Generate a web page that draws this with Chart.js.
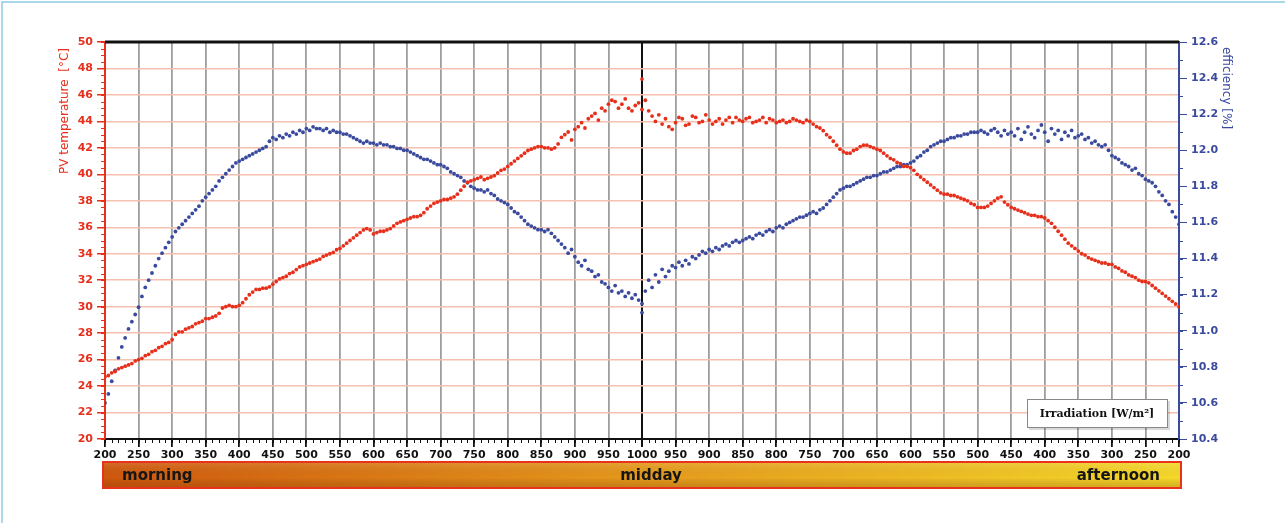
<!DOCTYPE html>
<html>
<head>
<meta charset="utf-8">
<script src="https://cdn.jsdelivr.net/npm/chart.js@4.4.0/dist/chart.umd.min.js"></script>
<style>
html, body { margin: 0; padding: 0; background: #fff; overflow: hidden; }
#wrap { width: 1285px; height: 523px; position: relative; }
</style>
</head>
<body>
<div id="wrap"><canvas id="mycanvas" width="1285" height="523"></canvas></div>
<script>
// x axis: 200 -> 1000 (morning) then 1000 -> 200 (afternoon), step 50
var tickLabels = ['200','250','300','350','400','450','500','550','600','650','700','750','800','850','900','950',
                  '1000','950','900','850','800','750','700','650','600','550','500','450','400','350','300','250','200'];
var periodLabels = ['morning', 'midday', 'afternoon'];

// readings every 5 W/m2; morning runs 200 -> 1000, afternoon 1000 -> 200
var tempMorning = [
  24.7,24.8,25.0,25.1,25.3,25.4,25.5,25.6,25.7,25.9,
  26.0,26.1,26.3,26.4,26.6,26.7,26.9,27.0,27.2,27.3,
  27.5,27.9,28.1,28.1,28.3,28.4,28.5,28.7,28.8,28.9,
  29.1,29.1,29.2,29.3,29.5,29.9,30.0,30.1,30.0,30.0,
  30.1,30.3,30.6,30.9,31.1,31.3,31.3,31.4,31.4,31.5,
  31.7,31.9,32.1,32.2,32.3,32.5,32.6,32.8,33.0,33.1,
  33.2,33.3,33.4,33.5,33.6,33.8,33.9,34.0,34.1,34.3,
  34.4,34.6,34.8,35.0,35.2,35.4,35.6,35.8,35.9,35.8,
  35.5,35.6,35.7,35.7,35.8,35.9,36.1,36.3,36.4,36.5,
  36.6,36.7,36.8,36.8,36.9,37.1,37.4,37.6,37.8,37.9,
  38.0,38.1,38.1,38.2,38.3,38.5,38.8,39.1,39.4,39.5,
  39.6,39.7,39.8,39.6,39.7,39.8,39.9,40.1,40.3,40.4,
  40.6,40.8,41.0,41.2,41.4,41.6,41.8,41.9,42.0,42.1,
  42.1,42.0,42.0,41.9,42.0,42.3,42.8,43.0,43.2,42.6,
  43.4,43.6,43.9,43.5,44.2,44.4,44.6,44.1,45.0,44.8,
  45.3,45.6,45.5,45.0,45.3,45.7,45.0,44.8,45.2,45.4,
  44.9
];
var tempAfternoon = [
  47.2,45.6,44.8,44.4,44.0,44.5,43.8,44.2,43.6,43.4,
  43.9,44.3,44.2,43.7,43.8,44.4,44.3,43.9,44.0,44.5,
  44.1,43.8,44.0,44.2,43.8,44.1,44.3,43.9,44.3,44.1,
  44.0,44.2,44.3,43.9,44.0,44.1,44.3,43.9,44.2,44.1,
  43.9,44.0,44.1,43.9,44.0,44.2,44.1,44.0,43.9,44.1,
  44.0,43.8,43.6,43.5,43.3,43.0,42.8,42.5,42.2,41.9,
  41.7,41.6,41.6,41.8,41.9,42.1,42.2,42.2,42.1,42.0,
  41.9,41.8,41.6,41.4,41.2,41.1,40.9,40.8,40.6,40.6,
  40.5,40.3,40.0,39.8,39.6,39.4,39.2,39.0,38.8,38.6,
  38.5,38.5,38.4,38.4,38.3,38.2,38.1,38.0,37.8,37.7,
  37.5,37.5,37.5,37.6,37.8,38.0,38.2,38.3,37.9,37.7,
  37.5,37.4,37.3,37.2,37.1,37.0,36.9,36.9,36.8,36.8,
  36.7,36.5,36.3,36.0,35.7,35.4,35.1,34.8,34.6,34.4,
  34.2,34.0,33.9,33.7,33.6,33.5,33.4,33.3,33.3,33.2,
  33.2,33.0,32.9,32.7,32.6,32.4,32.3,32.2,32.0,31.9,
  31.9,31.8,31.6,31.4,31.2,31.0,30.8,30.6,30.4,30.2,
  30.0
];
var effMorning = [
  10.60,10.65,10.72,10.78,10.85,10.91,10.96,11.01,11.05,11.09,
  11.13,11.19,11.24,11.28,11.32,11.36,11.40,11.43,11.46,11.49,
  11.52,11.55,11.57,11.59,11.61,11.63,11.65,11.67,11.69,11.72,
  11.74,11.76,11.78,11.80,11.83,11.85,11.87,11.89,11.91,11.93,
  11.94,11.95,11.96,11.97,11.98,11.99,12.00,12.01,12.02,12.05,
  12.07,12.06,12.08,12.07,12.09,12.08,12.10,12.09,12.11,12.10,
  12.12,12.11,12.13,12.12,12.12,12.11,12.12,12.10,12.11,12.10,
  12.10,12.09,12.09,12.08,12.07,12.06,12.05,12.04,12.05,12.04,
  12.04,12.03,12.04,12.03,12.03,12.02,12.02,12.01,12.01,12.00,
  12.00,11.99,11.98,11.97,11.96,11.95,11.95,11.94,11.93,11.92,
  11.92,11.91,11.90,11.88,11.87,11.86,11.85,11.83,11.82,11.80,
  11.79,11.78,11.78,11.77,11.78,11.76,11.75,11.73,11.72,11.71,
  11.70,11.68,11.66,11.65,11.63,11.61,11.59,11.58,11.57,11.56,
  11.56,11.55,11.56,11.54,11.52,11.50,11.48,11.46,11.43,11.45,
  11.41,11.38,11.36,11.39,11.34,11.33,11.30,11.31,11.27,11.26,
  11.24,11.22,11.25,11.21,11.22,11.19,11.21,11.18,11.20,11.17,
  11.10
];
var effAfternoon = [
  11.15,11.22,11.28,11.24,11.31,11.27,11.34,11.30,11.33,11.36,
  11.35,11.38,11.36,11.39,11.37,11.41,11.40,11.42,11.44,11.43,
  11.45,11.44,11.46,11.45,11.47,11.48,11.47,11.49,11.50,11.49,
  11.50,11.51,11.52,11.51,11.53,11.54,11.53,11.55,11.56,11.55,
  11.57,11.58,11.57,11.59,11.60,11.61,11.62,11.63,11.63,11.64,
  11.65,11.66,11.65,11.67,11.68,11.70,11.72,11.74,11.76,11.78,
  11.79,11.80,11.80,11.81,11.82,11.83,11.84,11.85,11.85,11.86,
  11.86,11.87,11.88,11.88,11.89,11.90,11.91,11.91,11.92,11.92,
  11.93,11.94,11.96,11.97,11.99,12.00,12.02,12.03,12.04,12.05,
  12.05,12.06,12.07,12.07,12.08,12.08,12.09,12.09,12.10,12.10,
  12.10,12.11,12.10,12.09,12.11,12.12,12.10,12.08,12.11,12.09,
  12.10,12.08,12.12,12.06,12.10,12.13,12.09,12.07,12.11,12.14,
  12.10,12.05,12.12,12.09,12.11,12.06,12.10,12.08,12.11,12.07,
  12.08,12.09,12.06,12.07,12.04,12.05,12.03,12.02,12.03,12.00,
  11.97,11.96,11.95,11.93,11.92,11.91,11.89,11.90,11.87,11.86,
  11.84,11.83,11.82,11.80,11.77,11.75,11.72,11.70,11.66,11.63,
  11.59
];

var STEP = 5;          // W/m2 between readings
var HALF = 800;        // x position of midday (1000 W/m2)
var RED = '#e6301c';
var BLUE = '#3a4a9e';

function toPoints(morning, afternoon) {
  var pts = [];
  for (var i = 0; i < morning.length; i++) pts.push({ x: i * STEP, y: morning[i] });
  for (var j = 0; j < afternoon.length; j++) pts.push({ x: HALF + j * STEP, y: afternoon[j] });
  return pts;
}

// minor ticks, top border, axis titles, day-period bar, legend box
var decorations = {
  id: 'decorations',
  afterDraw: function(chart) {
    var c = chart.ctx, a = chart.chartArea;
    var sx = chart.scales.x, sy = chart.scales.y, sy1 = chart.scales.y1;
    c.save();

    // minor ticks
    c.lineWidth = 1;
    c.strokeStyle = RED;
    for (var t = 20; t <= 50; t += 0.5) {
      var py = Math.round(sy.getPixelForValue(t)) + 0.5;
      c.beginPath(); c.moveTo(a.left - 4, py); c.lineTo(a.left, py); c.stroke();
    }
    c.strokeStyle = BLUE;
    for (var k = 0; k <= 22; k++) {
      var py1 = Math.round(sy1.getPixelForValue(10.4 + k * 0.1)) + 0.5;
      c.beginPath(); c.moveTo(a.right, py1); c.lineTo(a.right + 4, py1); c.stroke();
    }
    c.strokeStyle = '#111';
    for (var m = 0; m <= 1600; m += 10) {
      var px = Math.round(sx.getPixelForValue(m)) + 0.5;
      c.beginPath(); c.moveTo(px, a.bottom); c.lineTo(px, a.bottom + 4); c.stroke();
    }

    // top frame of the plot
    c.strokeStyle = '#111';
    c.lineWidth = 3;
    c.beginPath(); c.moveTo(a.left, a.top); c.lineTo(a.right, a.top); c.stroke();

    // axis titles
    c.font = '12px "DejaVu Sans", sans-serif';
    c.textAlign = 'center';
    c.textBaseline = 'middle';
    c.fillStyle = RED;
    c.save(); c.translate(65, 111); c.rotate(-Math.PI / 2); c.fillText('PV temperature  [°C]', 0, 0); c.restore();
    c.fillStyle = BLUE;
    c.save(); c.translate(1226, 88); c.rotate(Math.PI / 2); c.fillText('efficiency [%]', 0, 0); c.restore();

    // day-period bar
    var bx = a.left - 2, bw = a.right - a.left + 4, by = 462, bh = 26;
    var g = c.createLinearGradient(bx, 0, bx + bw, 0);
    g.addColorStop(0, '#d0580e');
    g.addColorStop(0.5, '#e69a1c');
    g.addColorStop(1, '#f6d92a');
    c.fillStyle = g;
    c.fillRect(bx, by, bw, bh);
    var gv = c.createLinearGradient(0, by, 0, by + bh);
    gv.addColorStop(0, 'rgba(255,255,255,0.12)');
    gv.addColorStop(0.6, 'rgba(0,0,0,0)');
    gv.addColorStop(1, 'rgba(120,40,0,0.25)');
    c.fillStyle = gv;
    c.fillRect(bx, by, bw, bh);
    c.strokeStyle = '#e8321c';
    c.lineWidth = 2;
    c.strokeRect(bx, by, bw, bh);
    c.fillStyle = '#151515';
    c.font = 'bold 15px "DejaVu Sans", sans-serif';
    c.textBaseline = 'middle';
    c.textAlign = 'left';
    c.fillText(periodLabels[0], 122, by + bh / 2 + 1);
    c.textAlign = 'center';
    c.fillText(periodLabels[1], sx.getPixelForValue(HALF) + 9, by + bh / 2 + 1);
    c.textAlign = 'right';
    c.fillText(periodLabels[2], 1160, by + bh / 2 + 1);

    // legend box
    c.fillStyle = 'rgba(0,0,0,0.15)';
    c.fillRect(1029, 401, 141, 29);
    c.fillStyle = '#fff';
    c.fillRect(1027, 399, 141, 29);
    c.strokeStyle = '#888';
    c.lineWidth = 1;
    c.strokeRect(1027.5, 399.5, 140, 28);
    c.fillStyle = '#111';
    c.font = 'bold 11px "DejaVu Serif", serif';
    c.textAlign = 'center';
    c.fillText('Irradiation [W/m²]', 1097, 414);

    // page frame
    c.strokeStyle = '#8ecbe2';
    c.lineWidth = 1.5;
    c.beginPath(); c.moveTo(2, 523); c.lineTo(2, 2); c.lineTo(1285, 2); c.stroke();

    c.restore();
  }
};

var ctx = document.getElementById('mycanvas');
var chart = new Chart(ctx, {
  type: 'scatter',
  data: {
    datasets: [{
      label: 'PV temperature',
      data: toPoints(tempMorning, tempAfternoon),
      yAxisID: 'y',
      backgroundColor: RED,
      borderWidth: 0,
      pointRadius: 1.9
    }, {
      label: 'efficiency',
      data: toPoints(effMorning, effAfternoon),
      yAxisID: 'y1',
      backgroundColor: BLUE,
      borderWidth: 0,
      pointRadius: 1.9
    }]
  },
  options: {
    responsive: false,
    animation: false,
    devicePixelRatio: 1,
    layout: { padding: { top: 42, left: 0, right: 0, bottom: 0 } },
    plugins: { legend: { display: false }, tooltip: { enabled: false } },
    scales: {
      x: {
        type: 'linear', min: 0, max: 1600, position: 'bottom',
        afterFit: function(s) { s.height = 84; },
        ticks: {
          stepSize: 50, autoSkip: false, maxRotation: 0, padding: 2, color: '#111',
          font: { family: '"DejaVu Sans", sans-serif', size: 11, weight: 'bold' },
          callback: function(v) { return tickLabels[Math.round(v / 50)]; }
        },
        grid: {
          color: function(c) { return c.tick && c.tick.value === HALF ? '#111' : '#9e9e9e'; },
          lineWidth: function(c) { return c.tick && c.tick.value === HALF ? 2 : 1.8; },
          tickColor: '#111', tickLength: 8
        },
        border: { color: '#111', width: 2 }
      },
      y: {
        type: 'linear', min: 20, max: 50, position: 'left',
        afterFit: function(s) { s.width = 105; },
        ticks: {
          stepSize: 2, padding: 4, color: RED,
          font: { family: '"DejaVu Sans", sans-serif', size: 11, weight: 'bold' }
        },
        grid: { color: '#f6c0b0', lineWidth: 1.5, tickColor: RED, tickLength: 8 },
        border: { color: RED, width: 2 }
      },
      y1: {
        type: 'linear', min: 10.4, max: 12.6, position: 'right',
        afterFit: function(s) { s.width = 106; },
        ticks: {
          stepSize: 0.2, padding: 4, color: BLUE,
          font: { family: '"DejaVu Sans", sans-serif', size: 11, weight: 'bold' },
          callback: function(v) { return Number(v).toFixed(1); }
        },
        grid: { drawOnChartArea: false, tickColor: BLUE, tickLength: 8 },
        border: { color: BLUE, width: 2 }
      }
    }
  },
  plugins: [decorations]
});
</script>
</body>
</html>
